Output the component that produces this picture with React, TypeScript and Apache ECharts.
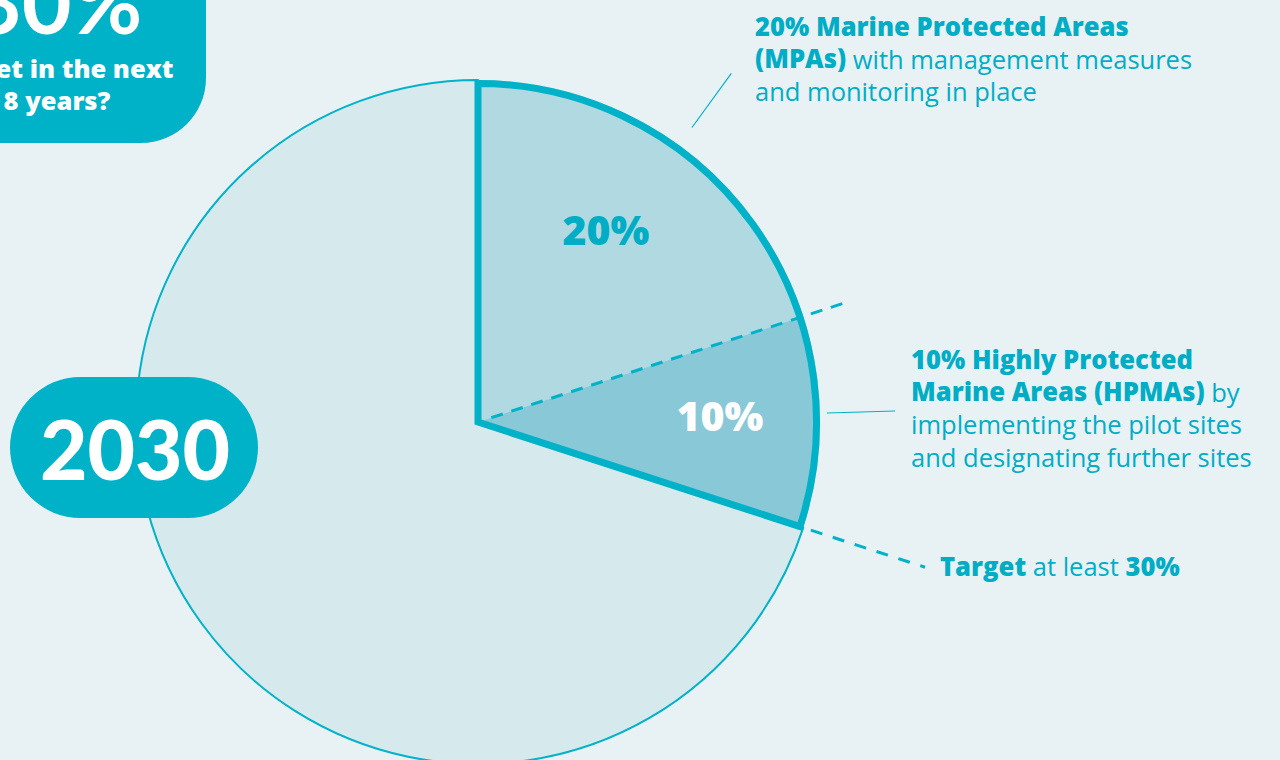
import React, { useEffect, useRef } from "react";
import * as echarts from "echarts";

// ---- Data ----
const CATEGORIES = ["Marine Protected Areas (MPAs)", "Highly Protected Marine Areas (HPMAs)", "Rest of waters"];
const VALUES = [20, 10, 70];
const INNER_LABELS = ["20%", "10%", ""];
const TARGET_LABEL = "30%";
const YEAR = "2030";

// ---- Style constants ----
const TEAL = "#00b2c8";
const TEXT_TEAL = "#00adc5";
const BG = "#e8f2f5";
const FILLS = ["#b0d9e2", "#89c8d7", "#d6e9ed"];
const FONT = "Lato, 'Open Sans', sans-serif";
const FONT2 = "'Open Sans', Lato, sans-serif";
const CX = 478;
const CY = 422;
const R = 342;

const TOTAL = VALUES.reduce((a, b) => a + b, 0);
const cumAngle = (n: number) => (VALUES.slice(0, n).reduce((a, b) => a + b, 0) / TOTAL) * 360;
const pt = (deg: number, r: number): [number, number] => {
  const a = (deg * Math.PI) / 180;
  return [CX + r * Math.sin(a), CY - r * Math.cos(a)];
};

function textEl(x: number, y: number, text: string, extra: any) {
  return {
    type: "text",
    x,
    y,
    z: 20,
    style: {
      text,
      fontFamily: FONT,
      ...extra,
    },
  };
}

export default function App() {
  const ref = useRef<HTMLDivElement>(null);
  useEffect(() => {
    document.body.style.margin = "0";
    const chart = echarts.init(ref.current!, null, { renderer: "svg" });

    const a1 = cumAngle(1); // boundary 20 / 10
    const a2 = cumAngle(2); // boundary 10 / rest
    const mid1 = (cumAngle(0) + a1) / 2;
    const mid2 = (a1 + a2) / 2;

    const d1s = pt(a1, 14);
    const d1e = pt(a1, 390);
    const d2s = pt(a2, 350);
    const d2e = pt(a2, 470);
    const l1s = pt(mid1, 364);
    const l1e = pt(mid1, 431);
    const l2s = pt(mid2, 349);
    const l2e = pt(mid2, 417);

    const LH = 32.5;
    const rich = {
      b: { fontWeight: 800, fontSize: 25.6, fontFamily: FONT2, fill: TEXT_TEAL, color: TEXT_TEAL, lineHeight: LH },
      r: { fontWeight: "normal", fontSize: 25.5, fontFamily: FONT2, fill: TEXT_TEAL, color: TEXT_TEAL, lineHeight: LH },
    };

    const option: any = {
      animation: false,
      backgroundColor: BG,
      series: [
        {
          type: "pie",
          center: [CX, CY],
          radius: R,
          startAngle: 90,
          clockwise: true,
          silent: true,
          avoidLabelOverlap: false,
          label: { show: false },
          labelLine: { show: false },
          data: VALUES.map((v, i) => ({
            name: CATEGORIES[i],
            value: v,
            itemStyle: {
              color: FILLS[i],
              borderColor: TEAL,
              borderWidth: i === 2 ? 2 : 0,
            },
          })),
        },
        {
          type: "pie",
          center: [CX, CY],
          radius: R - 3.5,
          startAngle: 90,
          silent: true,
          z: 3,
          label: { show: false },
          labelLine: { show: false },
          data: [
            {
              name: "Target",
              value: VALUES[0] + VALUES[1],
              itemStyle: { color: "rgba(0,0,0,0)", borderColor: TEAL, borderWidth: 7, borderJoin: "miter" },
            },
            {
              name: "Rest",
              value: VALUES[2],
              itemStyle: { color: "rgba(0,0,0,0)", borderWidth: 0 },
            },
          ],
        },
        {
          type: "pie",
          center: [CX, CY],
          radius: [120, 350],
          startAngle: 90,
          silent: true,
          z: 4,
          avoidLabelOverlap: false,
          labelLine: { show: false },
          data: VALUES.map((v, i) => ({
            name: CATEGORIES[i],
            value: v,
            itemStyle: { color: "rgba(0,0,0,0)" },
            label: {
              show: INNER_LABELS[i] !== "",
              position: "inside",
              formatter: INNER_LABELS[i],
              color: i === 0 ? TEXT_TEAL : "#ffffff",
              fontSize: 41,
              fontWeight: 800,
              fontFamily: FONT2,
              offset: i === 0 ? [-12, 0] : [4, -7],
            },
          })),
        },
      ],
      graphic: [
        // top-left card
        { type: "rect", z: 10, shape: { x: -120, y: -120, width: 326, height: 263, r: 65 }, style: { fill: TEAL } },
        textEl(57, 0, TARGET_LABEL, {
          fill: "#ffffff", fontSize: 86, fontWeight: "bold",
          align: "center", textAlign: "center", verticalAlign: "middle", textVerticalAlign: "middle",
        }),
        textEl(57, 84, "target in the next\n8 years?", {
          fill: "#ffffff", fontSize: 25.5, fontWeight: 800, lineHeight: 32, fontFamily: FONT2,
          align: "center", textAlign: "center", verticalAlign: "middle", textVerticalAlign: "middle",
        }),
        // 2030 pill
        { type: "rect", z: 10, shape: { x: 10, y: 377, width: 248, height: 141, r: 70.5 }, style: { fill: TEAL } },
        textEl(135, 448, YEAR, {
          fill: "#ffffff", fontSize: 82, fontWeight: 900,
          align: "center", textAlign: "center", verticalAlign: "middle", textVerticalAlign: "middle",
        }),
        // dashed boundary lines
        {
          type: "line", z: 8,
          shape: { x1: d1s[0], y1: d1s[1], x2: d1e[0], y2: d1e[1] },
          style: { stroke: TEAL, lineWidth: 3, lineDash: [12, 9] },
        },
        {
          type: "line", z: 8,
          shape: { x1: d2s[0], y1: d2s[1], x2: d2e[0], y2: d2e[1] },
          style: { stroke: TEAL, lineWidth: 3, lineDash: [12, 11] },
        },
        // leader lines
        {
          type: "line", z: 8,
          shape: { x1: l1s[0], y1: l1s[1], x2: l1e[0], y2: l1e[1] },
          style: { stroke: TEAL, lineWidth: 1.2 },
        },
        {
          type: "line", z: 8,
          shape: { x1: l2s[0], y1: l2s[1] - 9, x2: l2e[0], y2: l2e[1] - 11 },
          style: { stroke: TEAL, lineWidth: 1.2 },
        },
        // outside labels
        textEl(755, 10, "{b|20% Marine Protected Areas}\n{b|(MPAs)}{r| with management measures}\n{r|and monitoring in place}", {
          rich, fill: TEXT_TEAL, fontSize: 25, lineHeight: LH,
          align: "left", textAlign: "left", verticalAlign: "top", textVerticalAlign: "top",
        }),
        textEl(911, 343, "{b|10% Highly Protected}\n{b|Marine Areas (HPMAs)}{r| by}\n{r|implementing the pilot sites}\n{r|and designating further sites}", {
          rich, fill: TEXT_TEAL, fontSize: 25, lineHeight: LH,
          align: "left", textAlign: "left", verticalAlign: "top", textVerticalAlign: "top",
        }),
        textEl(940, 566, "{b|Target}{r| at least }{b|" + TARGET_LABEL + "}", {
          rich, fill: TEXT_TEAL, fontSize: 25,
          align: "left", textAlign: "left", verticalAlign: "middle", textVerticalAlign: "middle",
        }),
      ],
    };
    chart.setOption(option);
    return () => chart.dispose();
  }, []);
  return <div ref={ref} style={{ position: "fixed", left: 0, top: 0, width: 1280, height: 760 }} />;
}
